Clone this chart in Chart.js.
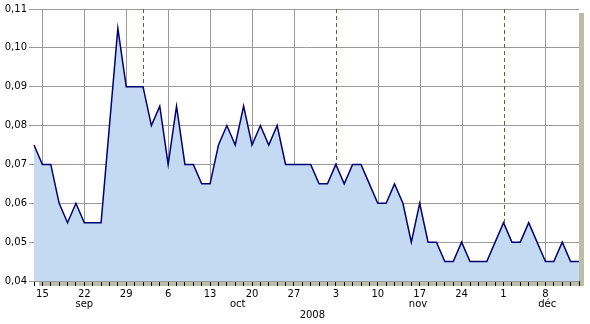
<!DOCTYPE html>
<html>
<head>
<meta charset="utf-8">
<script src="https://cdn.jsdelivr.net/npm/chart.js@4.4.1/dist/chart.umd.min.js"></script>
<style>
  html, body { margin: 0; padding: 0; background: #fff; }
</style>
</head>
<body>
<canvas id="rateChart" width="590" height="324"></canvas>
<script>
// business days, sep 12 -> dec 12 2008
const days = [
  '09-12', '09-15', '09-16', '09-17', '09-18', '09-19', '09-22', '09-23', '09-24', '09-25', '09-26', '09-29', '09-30',
  '10-01', '10-02', '10-03', '10-06', '10-07', '10-08', '10-09', '10-10', '10-13', '10-14', '10-15', '10-16', '10-17',
  '10-20', '10-21', '10-22', '10-23', '10-24', '10-27', '10-28', '10-29', '10-30', '10-31',
  '11-03', '11-04', '11-05', '11-06', '11-07', '11-10', '11-11', '11-12', '11-13', '11-14', '11-17', '11-18', '11-19',
  '11-20', '11-21', '11-24', '11-25', '11-26', '11-27', '11-28',
  '12-01', '12-02', '12-03', '12-04', '12-05', '12-08', '12-09', '12-10', '12-11', '12-12'
];
const rates = [
  0.075, 0.07, 0.07, 0.06, 0.055, 0.06, 0.055, 0.055, 0.055, 0.08, 0.105, 0.09, 0.09,
  0.09, 0.08, 0.085, 0.07, 0.085, 0.07, 0.07, 0.065, 0.065, 0.075, 0.08, 0.075, 0.085,
  0.075, 0.08, 0.075, 0.08, 0.07, 0.07, 0.07, 0.07, 0.065, 0.065,
  0.07, 0.065, 0.07, 0.07, 0.065, 0.06, 0.06, 0.065, 0.06, 0.05, 0.06, 0.05, 0.05,
  0.045, 0.045, 0.05, 0.045, 0.045, 0.045, 0.05,
  0.055, 0.05, 0.05, 0.055, 0.05, 0.045, 0.045, 0.05, 0.045, 0.045
];
const weekTicks = ['09-15', '09-22', '09-29', '10-06', '10-13', '10-20', '10-27', '11-03', '11-10', '11-17', '11-24', '12-01', '12-08'];
const monthStarts = ['10-01', '11-03', '12-01'];
const monthNames = ['sep', 'oct', 'nov', 'déc'];
const monthCenters = [6, 24.3, 45.8, 61.2]; // in day-index units
const yearLabel = '2008';
const yearCenter = 33.2;

const FONT = '10px "DejaVu Sans"';

const frame = {
  id: 'frame',
  beforeDraw(chart) {
    const { ctx, chartArea: a } = chart;
    ctx.save();
    ctx.fillStyle = '#bdbda7';
    ctx.fillRect(a.right, a.top + 4, 5, a.bottom - a.top + 1);
    ctx.fillRect(a.left + 5, a.bottom, a.right - a.left, 5);
    ctx.restore();
  },
  beforeDatasetsDraw(chart) {
    const { ctx, chartArea: a, scales: { x } } = chart;
    ctx.save();
    ctx.lineWidth = 1;
    ctx.strokeStyle = '#999';
    weekTicks.forEach(d => {
      if (monthStarts.includes(d)) return;
      const px = Math.round(x.getPixelForValue(days.indexOf(d))) + 0.5;
      ctx.beginPath();
      ctx.moveTo(px, a.top);
      ctx.lineTo(px, a.bottom);
      ctx.stroke();
    });
    ctx.strokeStyle = '#5a6a3c';
    ctx.setLineDash([4, 3]);
    monthStarts.forEach(d => {
      const px = Math.round(x.getPixelForValue(days.indexOf(d))) + 0.5;
      ctx.beginPath();
      ctx.moveTo(px, a.top);
      ctx.lineTo(px, a.bottom);
      ctx.stroke();
    });
    ctx.restore();
  },
  afterDraw(chart) {
    const { ctx, chartArea: a, scales: { x } } = chart;
    ctx.save();
    ctx.font = FONT;
    ctx.fillStyle = '#000';
    ctx.textAlign = 'center';
    ctx.textBaseline = 'middle';
    monthNames.forEach((m, i) => {
      ctx.fillText(m, x.getPixelForValue(monthCenters[i]), a.bottom + 23);
    });
    ctx.fillText(yearLabel, x.getPixelForValue(yearCenter), a.bottom + 34);
    ctx.restore();
  }
};

new Chart(document.getElementById('rateChart'), {
  type: 'line',
  data: {
    labels: days,
    datasets: [{
      data: rates,
      borderColor: '#000070',
      backgroundColor: '#c4d9f2',
      borderWidth: 1.5,
      pointRadius: 0,
      tension: 0,
      fill: 'start'
    }]
  },
  options: {
    responsive: false,
    animation: false,
    devicePixelRatio: 1,
    layout: { padding: { top: 9, right: 11, left: 0, bottom: 0 } },
    plugins: {
      legend: { display: false },
      tooltip: { enabled: false }
    },
    scales: {
      x: {
        afterFit: s => { s.height = 43; },
        border: { display: false },
        grid: { drawOnChartArea: false, tickLength: 5, tickColor: '#000', color: '#000' },
        ticks: {
          autoSkip: false,
          maxRotation: 0,
          padding: 2,
          color: '#000',
          font: { family: 'DejaVu Sans', size: 10 },
          callback: (v, i) => weekTicks.includes(days[i]) ? String(parseInt(days[i].slice(3), 10)) : ''
        }
      },
      y: {
        min: 0.04,
        max: 0.11,
        afterFit: s => { s.width = 34; },
        border: { display: false },
        grid: { color: '#999', tickLength: 5, tickColor: '#999' },
        ticks: {
          stepSize: 0.01,
          padding: 2,
          color: '#000',
          font: { family: 'DejaVu Sans', size: 10 },
          callback: v => v.toFixed(2).replace('.', ',')
        }
      }
    }
  },
  plugins: [frame]
});
</script>
</body>
</html>
